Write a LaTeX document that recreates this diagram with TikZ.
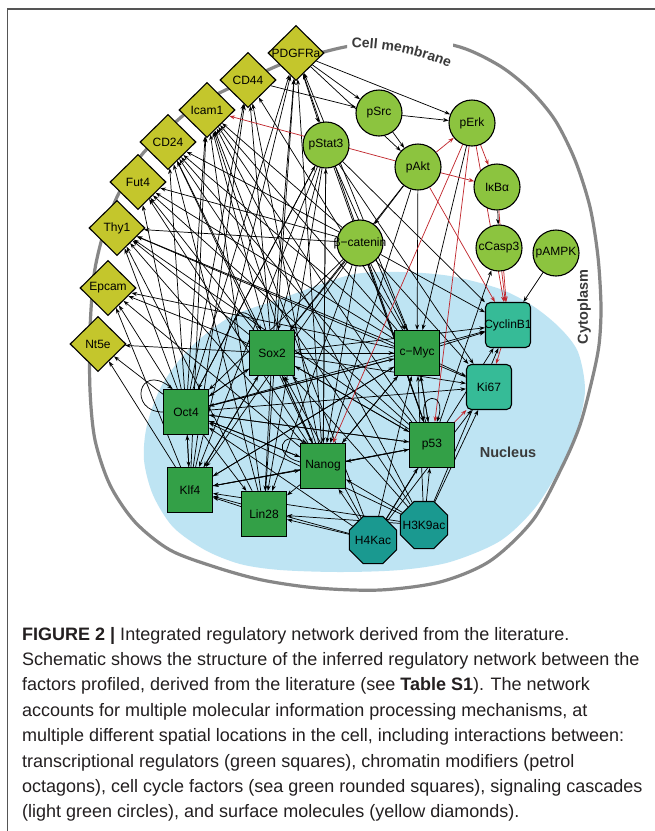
\documentclass[tikz,border=0pt]{standalone}
\usepackage{fontspec}
\setmainfont{Liberation Sans}
\usetikzlibrary{shapes.geometric,arrows.meta,decorations.text}
\definecolor{diac}{HTML}{C4C62C}
\definecolor{sigc}{HTML}{8CC43F}
\definecolor{tfc}{HTML}{33A047}
\definecolor{ccc}{HTML}{36BB97}
\definecolor{chc}{HTML}{1A9990}
\definecolor{nucc}{HTML}{BEE4F3}
\definecolor{memc}{HTML}{878787}
\definecolor{redc}{HTML}{C1272D}
\definecolor{labc}{HTML}{3A3A3A}
\definecolor{capc}{HTML}{231F20}
\definecolor{framec}{HTML}{555555}
\pgfdeclarelayer{back}
\pgfdeclarelayer{edges}
\pgfsetlayers{back,edges,main}
\newcommand\mylab[1]{\makebox[0pt]{#1}}
\tikzset{
  base/.style={draw=black, line width=1.1pt, inner sep=0pt, text=black, font=\fontsize{12}{12}\selectfont},
  dia/.style={base, diamond, fill=diac, minimum width=56pt, minimum height=55pt, aspect=1},
  sig/.style={base, circle, fill=sigc, minimum size=46pt},
  tf/.style={base, rectangle, fill=tfc, minimum size=45pt},
  ccy/.style={base, rectangle, rounded corners=5pt, fill=ccc, minimum size=45pt},
  chr/.style={base, regular polygon, regular polygon sides=8, fill=chc, minimum size=51pt},
  e/.style={draw=black, line width=0.72pt, -{Stealth[length=5.5pt,width=4pt]}},
  re/.style={e, draw=redc},
  captxt/.style={anchor=base west, inner sep=0pt, font=\fontsize{18}{22}\selectfont, text=capc},
  reg/.style={font=\fontsize{14.5}{15}\selectfont\bfseries, text=labc, inner sep=0pt}
}
\begin{document}
\begin{tikzpicture}[x=1pt,y=-1pt]
\useasboundingbox (0,0) rectangle (655,831);

\begin{pgfonlayer}{back}
\fill[white] (0,0) rectangle (655,831);
\draw[framec, line width=1.5pt] (7.5,831) -- (7.5,9) -- (655,9);
% nucleus
\fill[nucc] plot[smooth cycle] coordinates {(230,317) (280,299) (350,275) (400,272) (450,276) (500,289) (533,306) (560,328) (578,352) (585,390) (577,430) (563,463) (535,508) (500,541) (450,562) (400,570) (340,572) (280,570) (240,564) (205,550) (173,527) (153,495) (144,460) (147,425) (162,385) (190,348)};
% cell membrane
\begin{scope}
\clip (0,0) -- (347,0) -- (347,60) -- (453,60) -- (453,0) -- (655,0) -- (655,831) -- (0,831) -- cycle;
\draw[memc, line width=3.2pt] plot[smooth cycle] coordinates {(320,53) (350,46) (405,38) (460,47) (500,66) (530,90) (555,120) (575,160) (590,207) (598,257) (601,307) (599,345) (592,380) (580,425) (563,465) (533,520) (490,561) (440,582) (380,590) (317,588) (262,580) (215,567) (170,550) (135,522) (110,485) (95,440) (90,390) (90,330) (94,275) (103,235) (117,197) (140,157) (170,127) (200,103) (247,80) (282,64)};
\end{scope}
\end{pgfonlayer}
\path[decorate, decoration={text along path, text align=center, text={|\fontsize{14}{14}\bfseries\color{labc}|Cell membrane}}] (343,47) .. controls (385,47) and (420,54) .. (457,71);
\node[reg, rotate=90] (cyto) at (584,307) {Cytoplasm};
\node[reg] (nuc) at (508,452) {Nucleus};

% surface molecules
\node[dia] (PDG) at (296,53) {\mylab{PDGFRa}};
\node[dia] (CD44) at (248,80) {\mylab{CD44}};
\node[dia] (Icam) at (207,110) {\mylab{Icam1}};
\node[dia] (CD24) at (168,142) {\mylab{CD24}};
\node[dia] (Fut4) at (138,182) {\mylab{Fut4}};
\node[dia] (Thy1) at (117,228) {\mylab{Thy1}};
\node[dia] (Epcam) at (108,288) {\mylab{Epcam}};
\node[dia] (Nt5e) at (98,344) {\mylab{Nt5e}};
% signaling
\node[sig] (pSrc) at (379,113) {\mylab{pSrc}};
\node[sig] (pErk) at (472,123) {\mylab{pErk}};
\node[sig] (pStat) at (326,145) {\mylab{pStat3}};
\node[sig] (pAkt) at (418,167) {\mylab{pAkt}};
\node[sig] (IkB) at (497,187) {\mylab{I\kern-0.3pt κBα}};
\node[sig] (bcat) at (360,243) {\mylab{β−catenin}};
\node[sig] (cCasp) at (499,248) {\mylab{cCasp3}};
\node[sig] (pAMPK) at (556,253) {\mylab{pAMPK}};
% transcription
\node[tf] (Sox2) at (272,353) {\mylab{Sox2}};
\node[tf] (cMyc) at (417,353) {\mylab{c−Myc}};
\node[tf] (Oct4) at (186,412) {\mylab{Oct4}};
\node[tf] (p53) at (432,445) {\mylab{p53}};
\node[tf] (Nanog) at (323,466) {\mylab{Nanog}};
\node[tf] (Klf4) at (190,490) {\mylab{Klf4}};
\node[tf] (Lin28) at (264,514) {\mylab{Lin28}};
% cell cycle
\node[ccy] (Cyc) at (508,325) {\mylab{CyclinB1}};
\node[ccy] (Ki67) at (489,387) {\mylab{Ki67}};
% chromatin
\node[chr] (H4) at (373,540) {\mylab{H4Kac}};
\node[chr] (H3) at (424,525) {\mylab{H3K9ac}};

\begin{pgfonlayer}{edges}
\foreach \a/\b in {Oct4/Nt5e, Oct4/Epcam, Oct4/Thy1, Oct4/Fut4, Oct4/CD24, Oct4/Icam, Oct4/CD44, Oct4/PDG,
 Sox2/Nt5e, Sox2/Epcam, Sox2/Thy1, Sox2/Fut4, Sox2/CD24, Sox2/Icam, Sox2/CD44, Sox2/PDG,
 Nanog/Epcam, Nanog/Thy1, Nanog/Fut4, Nanog/CD24, Nanog/Icam, Nanog/CD44, Nanog/PDG,
 cMyc/Epcam, cMyc/Thy1, cMyc/CD24, cMyc/Icam, cMyc/CD44, cMyc/PDG, cMyc/Fut4,
 p53/Thy1, p53/Icam, p53/CD24, p53/PDG, p53/Fut4,
 bcat/Fut4, bcat/CD24, bcat/Thy1, bcat/Icam,
 Klf4/Epcam, Klf4/Icam, Klf4/CD44, Klf4/PDG, Klf4/Nt5e,
 Lin28/Icam, Lin28/CD24, Lin28/PDG, Lin28/Thy1, Ki67/Thy1, H4/Icam, H3/CD24, H3/Icam,
 PDG/pSrc, PDG/pErk, PDG/pStat, PDG/pAkt, CD44/pSrc, pSrc/pErk, pSrc/pAkt, IkB/cCasp, pAMPK/Cyc,
 pAkt/bcat, pAkt/cMyc, pAkt/Nanog, pErk/cMyc, pAkt/Sox2, p53/cCasp,
 pStat/Oct4, pStat/Sox2, pStat/Nanog, pStat/cMyc, pStat/Klf4, pStat/Lin28, pStat/p53, pStat/Cyc, pStat/Ki67,
 bcat/Oct4, bcat/Sox2, bcat/Nanog, bcat/cMyc, bcat/Klf4, bcat/Lin28, bcat/p53, bcat/Cyc, bcat/Ki67,
 Oct4/pStat, Nanog/pStat,
 Oct4/Sox2, Sox2/Oct4, Oct4/Nanog, Nanog/Oct4, Oct4/cMyc, cMyc/Oct4, Oct4/Klf4, Klf4/Oct4, Oct4/Lin28, Oct4/p53, p53/Oct4, Oct4/Ki67, Oct4/Cyc,
 Sox2/cMyc, Sox2/Nanog, Nanog/Sox2, Sox2/Klf4, Sox2/Lin28, Sox2/p53, Sox2/Cyc, Sox2/Ki67,
 cMyc/Cyc, cMyc/Ki67, cMyc/p53, p53/cMyc, cMyc/Nanog, cMyc/Klf4, cMyc/Sox2,
 p53/Nanog, p53/Sox2, p53/Klf4,
 Nanog/cMyc, Nanog/Klf4, Nanog/p53, Nanog/Lin28,
 Lin28/Klf4, Klf4/Sox2, Klf4/cMyc, Klf4/Nanog,
 H4/Lin28, H4/Klf4, H4/Nanog, H4/Oct4, H4/Sox2, H4/cMyc, H4/p53, H4/Ki67, H4/Cyc,
 H3/Lin28, H3/Klf4, H3/Nanog, H3/Oct4, H3/Sox2, H3/cMyc, H3/p53, H3/Ki67, H3/Cyc}
 \draw[e] (\a) -- (\b);
\foreach \a/\b in {pAkt/pErk, pAkt/IkB, pAkt/Icam, pErk/IkB, pErk/Nanog, pErk/p53, pAkt/Cyc, pErk/Cyc, IkB/Cyc, cCasp/Cyc, Cyc/Ki67, p53/Ki67}
 \draw[re] (\a) -- (\b);
% self loops
\draw[e] (Oct4.west) .. controls (128,412) and (138,362) .. (Oct4.120);
\draw[e] (Sox2.165) .. controls (222,330) and (238,292) .. (Sox2.115);
\draw[e] (Nanog.170) .. controls (272,455) and (280,430) .. (Nanog.125);
\draw[e] (p53.105) .. controls (415,392) and (448,390) .. (p53.78);
\end{pgfonlayer}

% caption
\node[captxt] (c1) at (22,640) {\textbf{FIGURE 2 |} Integrated regulatory network derived from the literature.};
\node[captxt] (c2) at (22,665.4) {Schematic shows the structure of the inferred regulatory network between the};
\node[captxt] (c3) at (22,690.8) {factors profiled, derived from the literature (see \textbf{Table S1}). The network};
\node[captxt] (c4) at (22,716.2) {accounts for multiple molecular information processing mechanisms, at};
\node[captxt] (c5) at (22,741.6) {multiple different spatial locations in the cell, including interactions between:};
\node[captxt] (c6) at (22,767) {transcriptional regulators (green squares), chromatin modifiers (petrol};
\node[captxt] (c7) at (22,792.4) {octagons), cell cycle factors (sea green rounded squares), signaling cascades};
\node[captxt] (c8) at (22,817.8) {(light green circles), and surface molecules (yellow diamonds).};
\end{tikzpicture}
\end{document}
